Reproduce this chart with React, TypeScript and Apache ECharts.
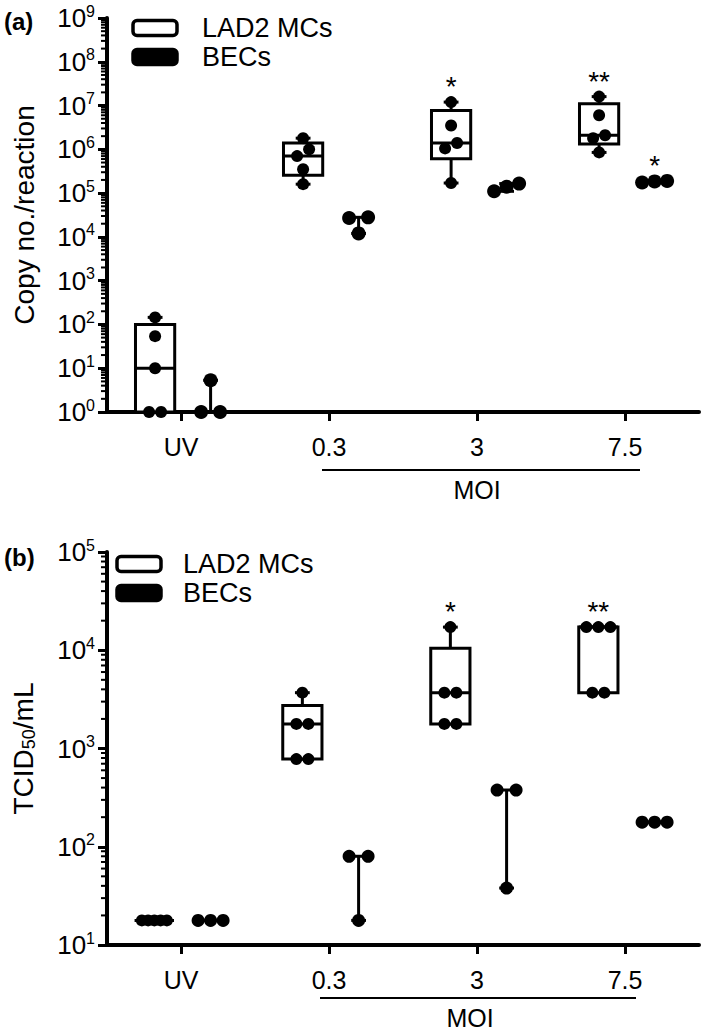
import React, { useEffect, useRef } from 'react';
import * as echarts from 'echarts';

const FONT = "'Liberation Sans', Arial, Helvetica, sans-serif";

// MOI categories (shared by both panels)
const categories = ['UV', '0.3', '3', '7.5'];

// Panel (a): viral RNA copy number per reaction
const copyLAD2 = [
  [1, 1, 10, 54, 145],
  [1.6e5, 3.5e5, 7e5, 1.0e6, 1.8e6],
  [1.7e5, 1.05e6, 1.4e6, 3.5e6, 1.2e7],
  [8.5e5, 1.8e6, 2.1e6, 6e6, 1.6e7],
];
const copyBECs = [
  [1, 1, 5.3],
  [1.2e4, 2.7e4, 2.8e4],
  [1.1e5, 1.4e5, 1.65e5],
  [1.75e5, 1.85e5, 1.9e5],
];
const copySigLAD2 = ['', '', '*', '**'];
const copySigBECs = ['', '', '', '*'];

// Panel (b): TCID50/mL
const tcidLAD2 = [
  [17.8, 17.8, 17.8, 17.8, 17.8],
  [780, 780, 1780, 1780, 3700],
  [1780, 1780, 3700, 3700, 17200],
  [3700, 3700, 17200, 17200, 17200],
];
const tcidBECs = [
  [17.8, 17.8, 17.8],
  [17.8, 80, 80],
  [38, 378, 378],
  [178, 178, 178],
];
const tcidSigLAD2 = ['', '', '*', '**'];
const tcidSigBECs = ['', '', '', ''];

// axis ranges (powers of ten)
const copyExpRange = [0, 9];
const tcidExpRange = [1, 5];

function quant(sorted: number[], p: number) {
  const n = sorted.length;
  const pos = (n + 1) * p;
  const lo = Math.floor(pos);
  const frac = pos - lo;
  if (lo < 1) return sorted[0];
  if (lo >= n) return sorted[n - 1];
  return sorted[lo - 1] + frac * (sorted[lo] - sorted[lo - 1]);
}

function minorValues(range: number[]) {
  const out: number[] = [];
  for (let k = range[0]; k < range[1]; k++) {
    for (let m = 2; m <= 9; m++) out.push(m * Math.pow(10, k));
  }
  return out;
}

function groupRenderer(
  groups: number[][],
  side: number,
  showBox: boolean,
  r: number,
  maxStep: number,
  sig: string[]
) {
  return (params: any, api: any) => {
    const i = params.dataIndex;
    const cs = params.coordSys;
    const bw = cs.width / categories.length;
    const vals = groups[i].slice().sort((a, b) => a - b);
    const cx = api.coord([i, vals[0]])[0] + side * bw;
    const Y = (v: number) => api.coord([i, v])[1];
    const mn = vals[0];
    const mx = vals[vals.length - 1];
    const lw = 3;
    const capW = bw * 0.1;
    const boxW = bw * 0.265;
    const children: any[] = [];
    const line = (x1: number, y1: number, x2: number, y2: number) => ({
      type: 'line',
      shape: { x1, y1, x2, y2 },
      style: { stroke: '#000', lineWidth: lw },
    });
    if (showBox) {
      const q1 = quant(vals, 0.25);
      const md = quant(vals, 0.5);
      const q3 = quant(vals, 0.75);
      children.push(line(cx, Y(mx), cx, Y(q3)));
      children.push(line(cx, Y(q1), cx, Y(mn)));
      children.push(line(cx - capW / 2, Y(mx), cx + capW / 2, Y(mx)));
      children.push(line(cx - capW / 2, Y(mn), cx + capW / 2, Y(mn)));
      children.push({
        type: 'rect',
        shape: { x: cx - boxW / 2, y: Y(q3), width: boxW, height: Y(q1) - Y(q3) },
        style: { fill: '#fff', stroke: '#000', lineWidth: lw },
      });
      children.push(line(cx - boxW / 2, Y(md), cx + boxW / 2, Y(md)));
    } else {
      children.push(line(cx, Y(mx), cx, Y(mn)));
      children.push(line(cx - capW / 2, Y(mx), cx + capW / 2, Y(mx)));
      children.push(line(cx - capW / 2, Y(mn), cx + capW / 2, Y(mn)));
    }
    // beeswarm-like placement of the points
    const pts = vals.map((v) => ({ v, y: Y(v) })).sort((a, b) => b.y - a.y);
    const bins: { v: number; y: number }[][] = [];
    for (const p of pts) {
      const g = bins[bins.length - 1];
      if (g && Math.abs(g[g.length - 1].y - p.y) < 9) g.push(p);
      else bins.push([p]);
    }
    for (const g of bins) {
      const n = g.length;
      const step = n > 1 ? Math.min(maxStep, 25 / (n - 1)) : 0;
      g.forEach((p, k) => {
        children.push({
          type: 'circle',
          shape: { cx: cx + (k - (n - 1) / 2) * step, cy: p.y, r },
          style: { fill: '#000' },
        });
      });
    }
    if (sig[i]) {
      const fs = 28;
      children.push({
        type: 'text',
        x: cx,
        y: Y(mx) - 22 + 0.24 * fs,
        style: {
          text: sig[i],
          fontSize: fs,
          fontFamily: FONT,
          fill: '#000',
          align: 'center',
          verticalAlign: 'middle',
        },
      });
    }
    return { type: 'group', children };
  };
}

function minorRenderer(vals: number[]) {
  return (params: any, api: any) => {
    const v = vals[params.dataIndex];
    const y = api.coord([0, v])[1];
    const x = params.coordSys.x;
    return {
      type: 'line',
      shape: { x1: x - 6, y1: y, x2: x, y2: y },
      style: { stroke: '#000', lineWidth: 2 },
    };
  };
}

const powLabel = (v: number) => `{b|10}{s|${Math.round(Math.log10(v))}}`;
const powRich = {
  b: { fontSize: 26, fontFamily: FONT, color: '#000', lineHeight: 30 },
  s: { fontSize: 16, fontFamily: FONT, color: '#000', verticalAlign: 'top', lineHeight: 16 },
};

function xAxisFor(g: number) {
  return {
    type: 'category',
    gridIndex: g,
    data: categories,
    boundaryGap: true,
    axisLine: { show: true, lineStyle: { color: '#000', width: 4 } },
    axisTick: { show: true, alignWithLabel: true, length: 9, lineStyle: { color: '#000', width: 3 } },
    axisLabel: { color: '#000', fontSize: 25, fontFamily: FONT, margin: 22, interval: 0 },
    splitLine: { show: false },
  };
}

function yAxisFor(g: number, range: number[], name: string, nameRich?: any) {
  return {
    type: 'log',
    gridIndex: g,
    logBase: 10,
    min: Math.pow(10, range[0]),
    max: Math.pow(10, range[1]),
    splitNumber: range[1] - range[0],
    axisLine: { show: true, lineStyle: { color: '#000', width: 4 } },
    axisTick: { show: true, length: 9, lineStyle: { color: '#000', width: 3 } },
    axisLabel: { formatter: powLabel, rich: powRich, margin: 12 },
    splitLine: { show: false },
    minorTick: { show: false },
    name,
    nameLocation: 'middle',
    nameGap: 69,
    nameTextStyle: { fontSize: 28, color: '#000', fontFamily: FONT, rich: nameRich },
  };
}

function legendGraphics(x: number, y1: number, y2: number, tx: number) {
  const rectW = 44;
  const rectH = 15;
  const ts = { fontSize: 27, lineHeight: 26, fontFamily: FONT, fill: '#000', verticalAlign: 'middle' };
  return [
    {
      type: 'rect',
      shape: { x, y: y1 - rectH / 2, width: rectW, height: rectH, r: 4 },
      style: { fill: '#fff', stroke: '#000', lineWidth: 3.5 },
    },
    {
      type: 'rect',
      shape: { x, y: y2 - rectH / 2, width: rectW, height: rectH, r: 4 },
      style: { fill: '#000', stroke: '#000', lineWidth: 3.5 },
    },
    { type: 'text', x: tx, y: y1, style: { ...ts, text: 'LAD2 MCs' } },
    { type: 'text', x: tx, y: y2, style: { ...ts, text: 'BECs' } },
  ];
}

function moiGraphics(x1: number, x2: number, yLine: number, tx: number, ty: number) {
  return [
    { type: 'line', shape: { x1, y1: yLine, x2, y2: yLine }, style: { stroke: '#000', lineWidth: 2 } },
    {
      type: 'text',
      x: tx,
      y: ty,
      style: { text: 'MOI', fontSize: 25, fontFamily: FONT, fill: '#000', align: 'center', verticalAlign: 'middle' },
    },
  ];
}

function panelLabel(text: string, y: number) {
  return {
    type: 'text',
    x: 4,
    y,
    style: { text, fontSize: 24, fontWeight: 'bold', fontFamily: FONT, fill: '#000', verticalAlign: 'middle' },
  };
}

export default function App() {
  const ref = useRef<HTMLDivElement>(null);
  useEffect(() => {
    if (!ref.current) return;
    const chart = echarts.init(ref.current, undefined, { renderer: 'svg' });
    const minorA = minorValues(copyExpRange);
    const minorB = minorValues(tcidExpRange);
    const catData = (groups: number[][]) => groups.map((g, i) => [i, Math.max(...g)]);
    const option: any = {
      animation: false,
      backgroundColor: '#fff',
      grid: [
        { left: 107, top: 18, width: 592, height: 394 },
        { left: 107, top: 552, width: 592, height: 393 },
      ],
      xAxis: [xAxisFor(0), xAxisFor(1)],
      yAxis: [
        yAxisFor(0, copyExpRange, 'Copy no./reaction'),
        yAxisFor(1, tcidExpRange, '{t|TCID}{sub|50}{t|/mL}', {
          t: { fontSize: 28, fontFamily: FONT, color: '#000' },
          sub: { fontSize: 18, fontFamily: FONT, color: '#000', verticalAlign: 'bottom', padding: [12, 0, 0, 0] },
        }),
      ],
      series: [
        {
          type: 'custom',
          xAxisIndex: 0,
          yAxisIndex: 0,
          clip: false,
          silent: true,
          data: minorA.map((v) => [0, v]),
          renderItem: minorRenderer(minorA),
        },
        {
          type: 'custom',
          xAxisIndex: 1,
          yAxisIndex: 1,
          clip: false,
          silent: true,
          data: minorB.map((v) => [0, v]),
          renderItem: minorRenderer(minorB),
        },
        {
          name: 'LAD2 MCs',
          type: 'custom',
          xAxisIndex: 0,
          yAxisIndex: 0,
          clip: false,
          silent: true,
          data: catData(copyLAD2),
          renderItem: groupRenderer(copyLAD2, -0.175, true, 6, 12, copySigLAD2),
        },
        {
          name: 'BECs',
          type: 'custom',
          xAxisIndex: 0,
          yAxisIndex: 0,
          clip: false,
          silent: true,
          data: catData(copyBECs),
          renderItem: groupRenderer(copyBECs, 0.2, false, 7, 19, copySigBECs),
        },
        {
          name: 'LAD2 MCs',
          type: 'custom',
          xAxisIndex: 1,
          yAxisIndex: 1,
          clip: false,
          silent: true,
          data: catData(tcidLAD2),
          renderItem: groupRenderer(tcidLAD2, -0.18, true, 6, 12, tcidSigLAD2),
        },
        {
          name: 'BECs',
          type: 'custom',
          xAxisIndex: 1,
          yAxisIndex: 1,
          clip: false,
          silent: true,
          data: catData(tcidBECs),
          renderItem: groupRenderer(tcidBECs, 0.2, false, 6.5, 19, tcidSigBECs),
        },
      ],
      graphic: [
        panelLabel('(a)', 21),
        panelLabel('(b)', 557),
        ...legendGraphics(133, 28, 57, 202),
        ...legendGraphics(117, 564, 593, 183),
        ...moiGraphics(322, 640, 470, 477, 490),
        ...moiGraphics(320, 636, 998, 470, 1018),
      ],
    };
    chart.setOption(option);
    return () => chart.dispose();
  }, []);
  return (
    <div
      ref={ref}
      style={{ position: 'absolute', left: 0, top: 0, width: 709, height: 1036, background: '#fff' }}
    />
  );
}
